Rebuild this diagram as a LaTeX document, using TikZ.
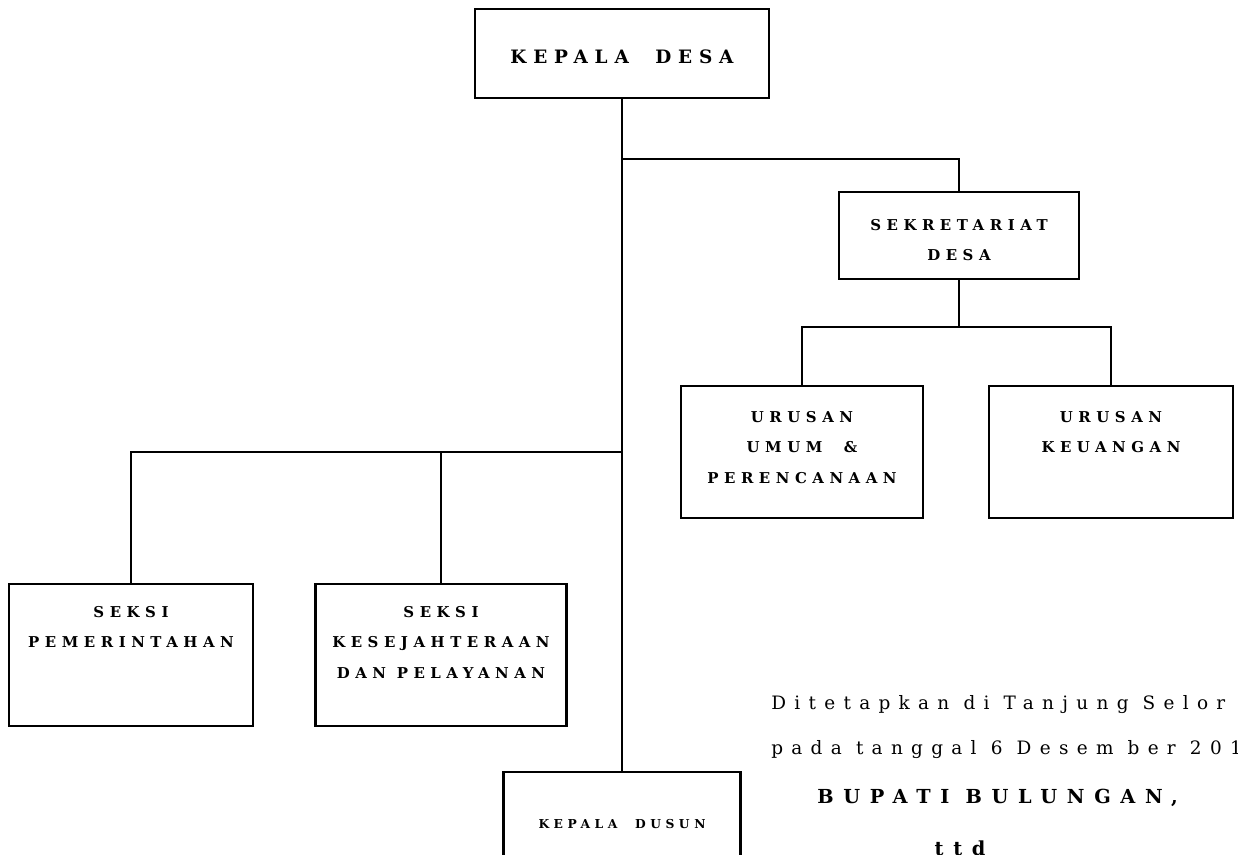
\documentclass[tikz,border=0pt]{standalone}
\usepackage{fontspec}
\setmainfont{DejaVu Serif}
\newfontfamily\boxfont[LetterSpace=37]{DejaVu Serif Bold}
\newfontfamily\signfont[LetterSpace=45]{DejaVu Serif}
\newfontfamily\signbold[LetterSpace=50]{DejaVu Serif Bold}
\usetikzlibrary{calc}

\tikzset{
  unitbox/.style={draw, line width=1.4pt, inner sep=0pt},
  boxtext/.style={font=\boxfont\fontsize{8.5}{17.4}\selectfont, align=center, inner sep=0pt},
  conn/.style={line width=1.1pt},
  signtext/.style={font=\signfont\fontsize{10.5}{12}\selectfont, inner sep=0pt, anchor=west}
}

\begin{document}
\begin{tikzpicture}[x=0.02cm, y=-0.02cm]
			\useasboundingbox (0,0) rectangle (1238,855);
			
			% Boxes
			\node[unitbox, minimum width=5.88cm, minimum height=1.78cm] (desa) at (622,53.5) {};
			\node[unitbox, minimum width=4.8cm, minimum height=1.74cm] (sekr) at (959,235.5) {};
			\node[unitbox, minimum width=4.84cm, minimum height=2.64cm] (umum) at (802,452) {};
			\node[unitbox, minimum width=4.88cm, minimum height=2.64cm] (keu) at (1111,452) {};
			\node[unitbox, minimum width=4.88cm, minimum height=2.84cm] (pem) at (131,655) {};
			\node[unitbox, minimum width=5.02cm, minimum height=2.84cm] (kes) at (441,655) {};
			\node[unitbox, minimum width=4.74cm, minimum height=2.8cm] (dusun) at (622,842) {};
			
			% Box texts
			\node[boxtext] (desatxt) at ($(desa)+(0,3)$) {\fontsize{10.5}{12}\selectfont KEPALA\ \ DESA};
			\node[boxtext, anchor=north] (sekrtxt) at ($(sekr.north)+(0,28)$) {\fontsize{8.5}{18.8}\selectfont SEKRETARIAT\\DESA};
			\node[boxtext, anchor=north] (umumtxt) at ($(umum.north)+(0,26)$) {URUSAN\\UMUM\ \ \&\\PERENCANAAN};
			\node[boxtext, anchor=north] (keutxt) at ($(keu.north)+(0,26)$) {URUSAN\\KEUANGAN};
			\node[boxtext, anchor=north] (pemtxt) at ($(pem.north)+(0,23)$) {SEKSI\\PEMERINTAHAN};
			\node[boxtext, anchor=north] (kestxt) at ($(kes.north)+(0,23)$) {SEKSI\\KESEJAHTERAAN\\DAN\ PELAYANAN};
			\node[boxtext] (dusuntxt) at ($(dusun.north)+(0,53)$) {\fontsize{7}{8}\selectfont KEPALA\ \ DUSUN};
			
			% Connectors
			\coordinate (j1) at (622,159);
			\coordinate (j3) at (622,452);
			\draw[conn] (desa.south) -- (dusun.north);
			\draw[conn] (j1) -| (sekr.north);
			\draw[conn] (sekr.south) -- ++(0,47) coordinate (j2);
			\draw[conn] (umum.north) |- (j2) -| (keu.north);
			\draw[conn] (pem.north) |- (j3);
			\draw[conn] (kes.north) -- (kes.north |- j3);
			
			% Signature block
			\node[signtext] (sign1) at (771,705) {Ditetapkan di Tanjung Selor};
			\node[signtext] (sign2) at (771,750) {pada tanggal 6 Desem ber 201};
			\node[signtext, font=\signbold\fontsize{11}{12}\selectfont] (sign3) at (817,798) {BUPATI BULUNGAN,};
			\node[signtext, anchor=center, font=\signbold\fontsize{11}{12}\selectfont] (sign4) at (960,848) {ttd};
\end{tikzpicture}
\end{document}
